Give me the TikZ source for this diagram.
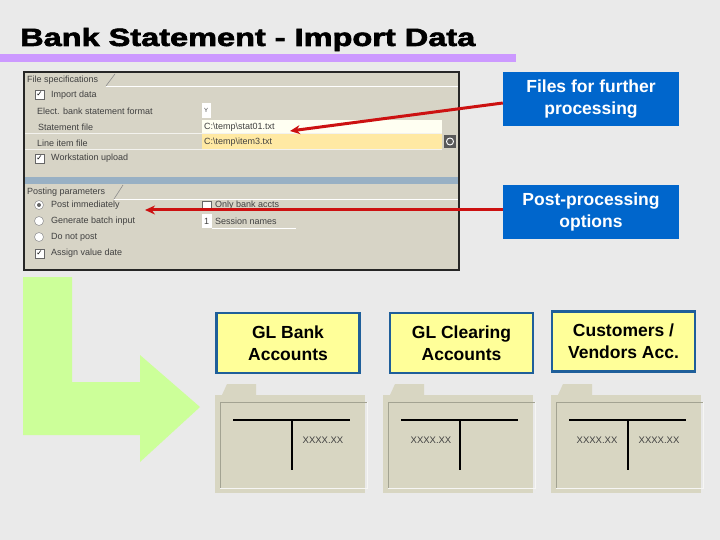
\documentclass[tikz,border=0pt]{standalone}
\usepackage{fontspec}
\setmainfont{Liberation Sans}
\newfontfamily\djv{DejaVu Sans}
\newfontfamily\titlefont{Liberation Sans}[BoldFeatures={FakeBold=2.2}]
\usetikzlibrary{arrows.meta}
\definecolor{bg}{HTML}{EAEAEA}
\definecolor{purp}{HTML}{CC99FF}
\definecolor{sapbg}{HTML}{D7D4C6}
\definecolor{sapband}{HTML}{98B0C4}
\definecolor{fieldw}{HTML}{FFFFF2}
\definecolor{fieldy}{HTML}{FFE9A3}
\definecolor{bluebox}{HTML}{0066CC}
\definecolor{yelbox}{HTML}{FFFF99}
\definecolor{yelborder}{HTML}{1F5F9A}
\definecolor{arrowgreen}{HTML}{CCFF99}
\definecolor{arrowred}{HTML}{CC1111}
\definecolor{foldfill}{HTML}{D8D6C2}
\definecolor{foldline}{HTML}{A3A392}
\tikzset{
  bluenote/.style={fill=bluebox, text=white, minimum width=176pt, minimum height=54pt,
    inner sep=0pt, align=center, font=\fontsize{17.5}{22}\selectfont\bfseries},
  yellownote/.style={fill=yelbox, draw=yelborder, line width=2.5pt, minimum width=143pt,
    minimum height=60pt, inner sep=0pt, align=center, font=\fontsize{17.5}{22}\selectfont\bfseries},
  saptext/.style={anchor=west, inner sep=0pt, text=black!75, font=\fontsize{9}{10}\selectfont},
  xxtext/.style={inner sep=0pt, text=black!75, font=\fontsize{9.5}{10}\selectfont},
  tick/.style={text=black, inner sep=0pt, font=\djv\fontsize{7.5}{8}\selectfont},
  redarrow/.style={draw=arrowred, line width=3pt, -{Stealth[length=10pt,width=9pt]}},
  chkbox/.style={fill=white, draw=black!60, line width=0.6pt},
  folder/.pic={
    \fill[foldfill] (0,11) rectangle (150,109);
    \fill[foldfill] (7,11) -- (12,0) -- (41,0) -- (41,11) -- cycle;
    \draw[foldline, line width=0.8pt, fill=foldfill] (5,104) -- (5,18) -- (152,18);
    \draw[white!90!foldline, line width=0.8pt] (5,104) -- (152,104) -- (152,18);
    \draw[black, line width=2.5pt] (18,36) -- (135,36);
    \draw[black, line width=2.5pt] (77,36) -- (77,86);
  }
}
\begin{document}
\begin{tikzpicture}[x=1pt,y=-1pt]
\useasboundingbox (0,0) rectangle (720,540);
\fill[bg] (0,0) rectangle (720,540);

% title
\node[anchor=base west, inner sep=0pt] (title) at (20,46)
  {\scalebox{1.3}[1]{\titlefont\fontsize{25}{30}\selectfont\bfseries Bank Statement - Import Data}};
\fill[purp] (0,54) rectangle (516,62);

% screenshot panel
\draw[fill=sapbg, draw=black!85, line width=1.5pt] (24,72) rectangle (459,270);
% tab 1
\draw[black!45, line width=0.6pt] (106,86) -- (115,74);
\draw[white, line width=0.8pt] (106,86) -- (458,86);
\node[saptext] (t1) at (27,80) {File specifications};
\draw[chkbox] (35,90) rectangle (44,99);
\node[tick] (c1) at (39.5,94.5) {✓};
\node[saptext] (l1) at (51,95) {Import data};
\node[saptext] (l2) at (37,111) {Elect. bank statement format};
\node[saptext] (l3) at (38,127) {Statement file};
\node[saptext] (l4) at (37,143) {Line item file};
\draw[chkbox] (35,154) rectangle (44,163);
\node[tick] (c2) at (39.5,158.5) {✓};
\node[saptext] (l5) at (51,158) {Workstation upload};
\draw[white!70!sapbg, line width=0.8pt] (25,133.5) -- (442,133.5);
\draw[white!70!sapbg, line width=0.8pt] (25,149.5) -- (442,149.5);
% fields
\fill[white] (202,103) rectangle (211,118);
\node[saptext, font=\fontsize{6}{7}\selectfont] (fy) at (204,110) {Y};
\fill[fieldw] (202,120) rectangle (442,133);
\node[saptext] (f1) at (204,127) {C:\textbackslash temp\textbackslash stat01.txt};
\fill[fieldy] (202,134.5) rectangle (442,149);
\node[saptext] (f2) at (204,142) {C:\textbackslash temp\textbackslash item3.txt};
\fill[black!65] (444,135) rectangle (456,148);
\draw[white, line width=0.9pt] (450,141.5) circle (3.5pt);

% band
\fill[sapband] (25,177) rectangle (458,184);
% tab 2
\draw[black!45, line width=0.6pt] (114,199) -- (123,185);
\draw[white, line width=0.8pt] (114,199.5) -- (458,199.5);
\node[saptext] (t2) at (27,192) {Posting parameters};
% radios
\draw[fill=white, draw=black!40, line width=0.6pt] (39,205) circle (4.5pt);
\fill[black!60] (39,205) circle (2pt);
\draw[fill=white, draw=black!40, line width=0.6pt] (39,221) circle (4.5pt);
\draw[fill=white, draw=black!40, line width=0.6pt] (39,237) circle (4.5pt);
\draw[chkbox] (35,249) rectangle (44,258);
\node[tick] (c3) at (39.5,253.5) {✓};
\node[saptext] (r1) at (51,205) {Post immediately};
\node[saptext] (r2) at (51,221) {Generate batch input};
\node[saptext] (r3) at (51,237) {Do not post};
\node[saptext] (r4) at (51,253) {Assign value date};
\draw[chkbox] (202,201) rectangle (211,210);
\node[saptext] (o1) at (215,205) {Only bank accts};
\fill[white] (202,214) rectangle (212,228);
\node[saptext] (o2n) at (204,221) {1};
\node[saptext] (o2) at (215,221) {Session names};
\draw[white, line width=0.8pt] (212,228.5) -- (296,228.5);

% blue notes
\node[bluenote] (files) at (591,99) {Files for further\\processing};
\node[bluenote] (post) at (591,212) {Post-processing\\options};
\coordinate (tipA) at (290,131);
\coordinate (tipB) at (145,210);
\draw[redarrow] ([yshift=-4pt]files.west) -- (tipA);
\draw[redarrow] ([yshift=2pt]post.west) -- (tipB);

% green L arrow
\fill[arrowgreen] (23,277) -- (72,277) -- (72,382) -- (140,382) -- (140,355) -- (200,407)
  -- (140,462) -- (140,435) -- (23,435) -- cycle;

% yellow notes
\node[yellownote] (bank) at (288,343) {GL Bank\\Accounts};
\node[yellownote] (clear) at (461.5,343) {GL Clearing\\Accounts};
\node[yellownote] (cust) at (623.5,341.5) {Customers /\\Vendors Acc.};

% folders
\pic at (215,384) {folder};
\pic at (383,384) {folder};
\pic at (551,384) {folder};
\node[xxtext] (x1) at (323,440) {XXXX.XX};
\node[xxtext] (x2) at (431,440) {XXXX.XX};
\node[xxtext] (x3) at (597,440) {XXXX.XX};
\node[xxtext] (x4) at (659,440) {XXXX.XX};
\end{tikzpicture}
\end{document}
